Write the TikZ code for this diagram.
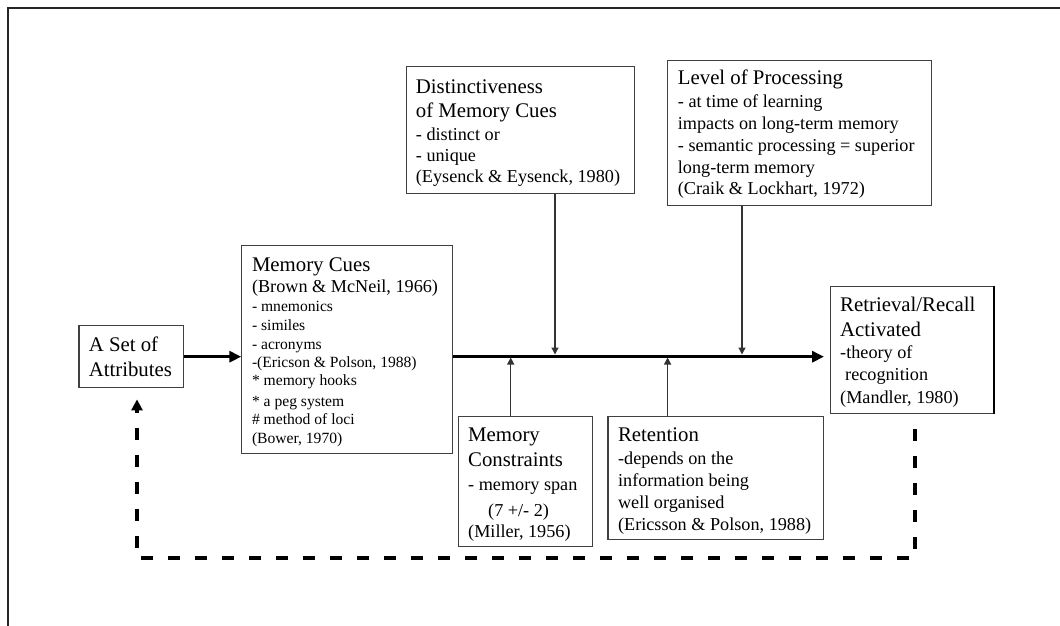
\documentclass[tikz,border=0pt]{standalone}
\usepackage{fontspec}
\setmainfont{Liberation Serif}
\usetikzlibrary{arrows.meta}
\newcommand{\ftt}{\fontsize{20.8}{24}\selectfont}
\newcommand{\fbd}{\fontsize{18.2}{22}\selectfont}
\newcommand{\fsm}{\fontsize{15.6}{19}\selectfont}
\newcommand{\lnx}[2]{\baselineskip=#1pt\relax\hbox{#2}}
\newcommand{\stk}[1]{\vtop{\lineskiplimit=-1000pt\lineskip=0pt #1}}
\tikzset{
  box/.style={draw=black!75, line width=1.1pt, rectangle, inner sep=0pt, anchor=north west, fill=white},
  txt/.style={inner sep=0pt, anchor=base west, text=black},
  mainarrow/.style={line width=3pt, -{Triangle[length=12pt,width=11pt]}},
  thinarrow/.style={line width=1.3pt, draw=black!80, -{Triangle[length=7pt,width=7pt]}},
  feedback/.style={line width=4pt, dash pattern=on 12pt off 15pt, -{Triangle[length=11pt,width=11pt]}}
}
\begin{document}
\begin{tikzpicture}[x=1pt,y=-1pt]
\useasboundingbox (0,0) rectangle (1060,626);
\fill[white] (0,0) rectangle (1060,626);
\draw[line width=2pt, black!85] (8,626) -- (8,8) -- (1060,8);

% boxes
\node[box, minimum width=228.2, minimum height=127] (dist) at (405.6,66) {};
\node[box, minimum width=264, minimum height=144.7] (lop) at (666.9,60) {};
\node[box, minimum width=210.5, minimum height=208] (mc) at (241.3,245) {};
\node[box, minimum width=104.1, minimum height=62.3] (attr) at (78.4,325) {};
\node[box, minimum width=163, minimum height=127] (ret) at (830,286) {};
\node[box, minimum width=134, minimum height=130] (mcon) at (458,416) {};
\node[box, minimum width=215.6, minimum height=123.3] (retn) at (607.4,416) {};
\draw[line width=2.2pt] (ret.north east) -- (ret.south east);

% texts
\node[txt] (distT) at (415.7,93.3) {\stk{\ftt\lnx{0}{Distinctiveness}\lnx{24}{of Memory Cues}\fbd\lnx{22.7}{- distinct or}\lnx{21.7}{- unique}\lnx{21}{(Eysenck \& Eysenck, 1980)}}};
\node[txt] (lopT) at (677.7,84.3) {\stk{\ftt\lnx{0}{Level of Processing}\fbd\lnx{23.4}{- at time of learning}\lnx{21.6}{impacts on long-term memory}\lnx{21.7}{- semantic processing = superior}\lnx{22.3}{long-term memory}\lnx{21.7}{(Craik \& Lockhart, 1972)}}};
\node[txt] (mcT) at (251.8,271) {\stk{\ftt\lnx{0}{Memory Cues}\fbd\lnx{21.7}{(Brown \& McNeil, 1966)}\fsm\lnx{19}{- mnemonics}\lnx{19}{- similes}\lnx{18.3}{- acronyms}\lnx{18.7}{-(Ericson \& Polson, 1988)}\lnx{18}{* memory hooks}\lnx{20.3}{* a peg system}\lnx{18.3}{\# method of loci}\lnx{19}{(Bower, 1970)}}};
\node[txt] (attrT) at (88.6,351) {\stk{\ftt\lnx{0}{A Set of}\lnx{25.7}{Attributes}}};
\node[txt] (retT) at (840,311.7) {\stk{\ftt\lnx{0}{Retrieval/Recall}\lnx{24.3}{Activated}\fbd\lnx{22}{-theory of}\lnx{22}{\hspace{5pt}recognition}\lnx{23}{(Mandler, 1980)}}};
\node[txt] (mconT) at (468,441.7) {\stk{\ftt\lnx{0}{Memory}\lnx{25}{Constraints}\fbd\lnx{24}{- memory span}\lnx{26}{\hspace{20pt}(7 +/- 2)}\lnx{20.3}{(Miller, 1956)}}};
\node[txt] (retnT) at (617.9,441.7) {\stk{\ftt\lnx{0}{Retention}\fbd\lnx{22.3}{-depends on the}\lnx{22.7}{information being}\lnx{21.6}{well organised}\lnx{21.7}{(Ericsson \& Polson, 1988)}}};

% main line
\draw[mainarrow] (attr.east) -- (attr.east -| mc.west);
\draw[mainarrow, shorten >=6pt] (attr.east -| mc.east) -- (attr.east -| ret.west);

% junctions on main line
\coordinate (jd) at (555,356);
\coordinate (jl) at (742,356);
\coordinate (jm) at (510.7,356);
\coordinate (jr) at (667.6,356);
\draw[thinarrow, shorten >=1.5pt] (dist.south -| jd) -- (jd);
\draw[thinarrow, shorten >=1.5pt] (lop.south -| jl) -- (jl);
\draw[thinarrow, shorten >=1.5pt] (mcon.north -| jm) -- (jm);
\draw[thinarrow, shorten >=1.5pt] (retn.north -| jr) -- (jr);

% feedback loop
\coordinate (fb1) at (915,558.3);
\coordinate (fb2) at (137,558.3);
\draw[feedback, shorten <=15pt, shorten >=11pt] (ret.south -| fb1) -- (fb1) -- (fb2) -- (attr.south -| fb2);
\end{tikzpicture}
\end{document}
